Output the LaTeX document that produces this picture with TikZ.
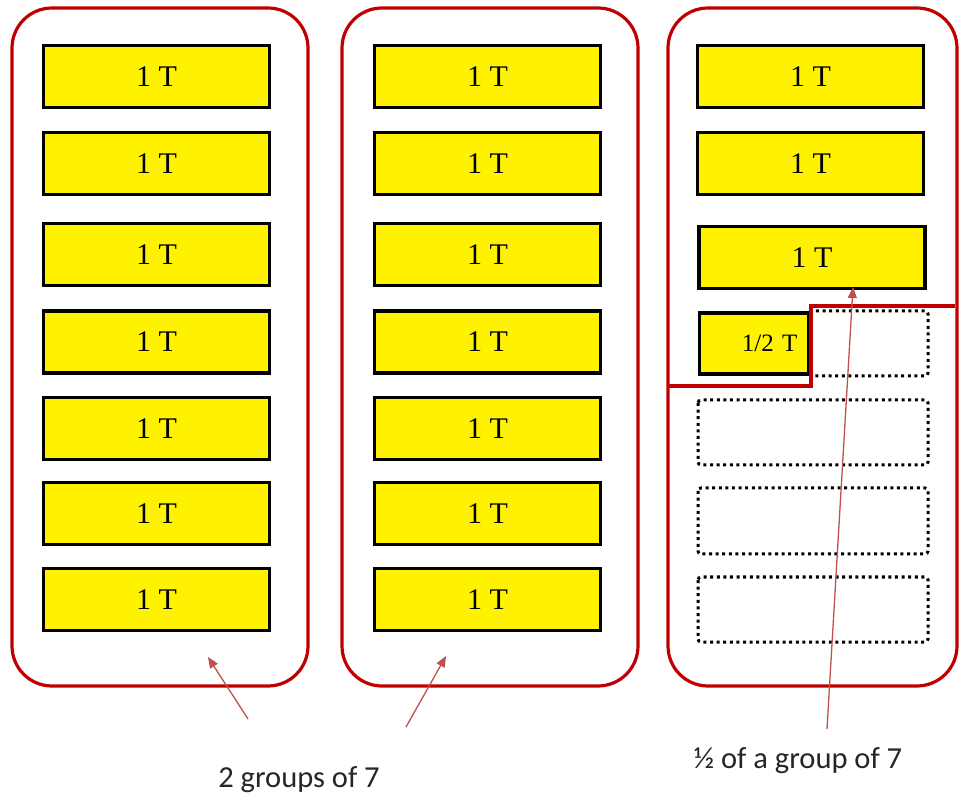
\documentclass[tikz,border=0pt]{standalone}
\usepackage{fontspec}
\setmainfont{Liberation Serif}
\newfontfamily\labelfont{Carlito}
\usetikzlibrary{arrows.meta}
\definecolor{groupred}{HTML}{C00000}
\definecolor{pointer}{HTML}{C0504D}
\begin{document}
\begin{tikzpicture}[x=1pt,y=-1pt,
  group/.style={draw=groupred,line width=3.2pt,rounded corners=40pt},
  tbox/.style={draw=black,fill=yellow,line width=3.2pt,minimum width=226pt,minimum height=62pt,inner sep=0pt,font=\fontsize{30}{31}\selectfont},
  halfbox/.style={draw=black,fill=yellow,line width=3.2pt,minimum height=61pt,inner ysep=0pt,inner xsep=11pt,text width=87pt,align=right,font=\fontsize{25}{26}\selectfont},
  emptybox/.style={draw=black,line width=3pt,dash pattern=on 3pt off 3.6pt,rounded corners=3pt},
  cut/.style={draw=groupred,line width=4pt},
  pointerarrow/.style={draw=pointer,line width=1.3pt,-{Triangle[length=11pt,width=9pt]}},
  caption/.style={font=\labelfont\fontsize{30.5}{32}\selectfont,text=black!85,inner sep=0pt,anchor=base}
]
\useasboundingbox (0,0) rectangle (962,799);

% three groups
\draw[group] (12,8) rectangle (308,686);
\draw[group] (342,8) rectangle (638,686);
\draw[group] (668,8) rectangle (957,686);

% group 1
\foreach \y [count=\i] in {76.5,163.5,254.5,342,428.5,513.5,599.5}
  \node[tbox] (a\i) at (156.5,\y) {1 T};
% group 2
\foreach \y [count=\i] in {76.5,163.5,254.5,342,428.5,513.5,599.5}
  \node[tbox] (b\i) at (487.5,\y) {1 T};
% group 3
\node[tbox] (c1) at (810.5,76.5) {1 T};
\node[tbox] (c2) at (810.5,163.5) {1 T};
\node[tbox] (c3) at (812,257.5) {1 T};

% empty places of the third group
\draw[emptybox] (810,311) rectangle (928,376);
\draw[emptybox] (698,400) rectangle (928,465);
\draw[emptybox] (698,488) rectangle (928,554);
\draw[emptybox] (698,577) rectangle (928,642);
\node[halfbox] (c4) at (754,343.5) {1/2 T};

% dividing line
\draw[cut] (668,386) -- (811,386) -- (811,306) -- (955,306);

% captions
\node[caption] (lab1) at (299,787) {2 groups of 7};
\node[caption] (lab2) at (798,768) {\textonehalf{} of a group of 7};

% pointers
\coordinate (t1) at (248,719);
\coordinate (h1) at (208,657);
\coordinate (t2) at (406,727);
\coordinate (h2) at (446,656);
\coordinate (t3) at (827,729);
\coordinate (h3) at (853,287);
\draw[pointerarrow] (t1) -- (h1);
\draw[pointerarrow] (t2) -- (h2);
\draw[pointerarrow] (t3) -- (h3);
\end{tikzpicture}
\end{document}
